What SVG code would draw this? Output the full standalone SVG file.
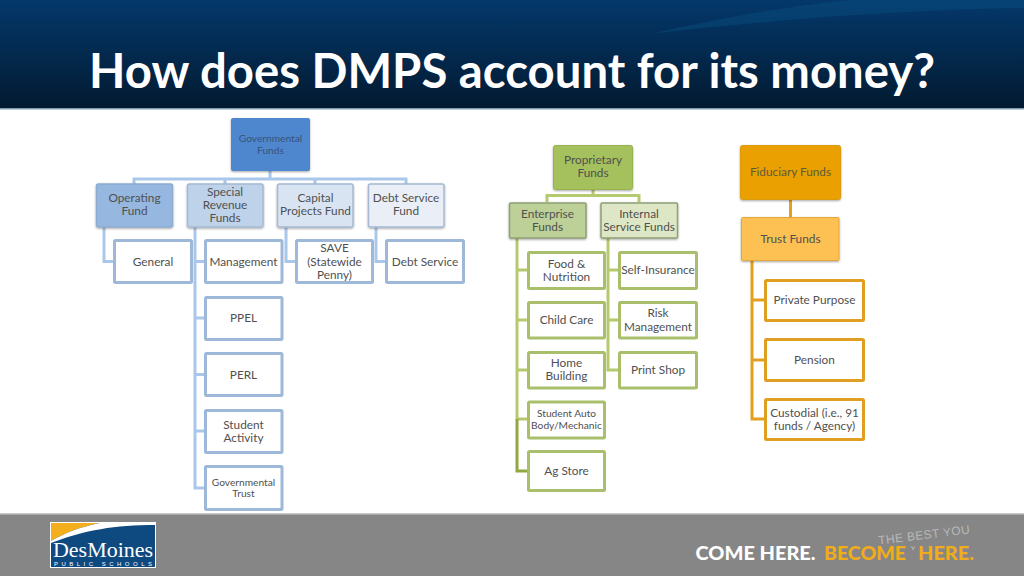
<svg xmlns="http://www.w3.org/2000/svg" width="1024" height="576" viewBox="0 0 1024 576">
<style>
text{font-family:"Lato","Open Sans","Liberation Sans",sans-serif;text-anchor:middle;fill:#505050;font-size:11.800px}
.conn{fill:none;stroke-width:3}
.b{stroke:#a9c7ea}.g{stroke:#b5ca6f}.o{stroke:#e3a01e}
.bb{fill:#fff;stroke:#9db8d9;stroke-width:3}
.gb{fill:#fff;stroke:#a9bf6c;stroke-width:3}
.ob{fill:#fff;stroke:#e09f20;stroke-width:3}
.sh{filter:url(#s)}
.sm{font-size:10.200px}
.tag{font-size:18px;font-weight:900}
</style>
<defs>
<linearGradient id="hd" x1="0" y1="0" x2="0" y2="1"><stop offset="0" stop-color="#04386b"/><stop offset="1" stop-color="#021a30"/></linearGradient>
<filter id="s" x="-10%" y="-10%" width="120%" height="125%"><feDropShadow dx="0" dy="1" stdDeviation="0.8" flood-color="#000" flood-opacity="0.35"/></filter>
</defs>
<rect width="1024" height="576" fill="#fff"/>
<g id="header">
<rect width="1024" height="109" fill="url(#hd)"/>
<path d="M650 34C720 18 790 6 850 0H1024V8C900 10 770 20 650 34Z" fill="#0a5284" opacity="0.4"/>
<rect y="108" width="1024" height="1.500" fill="#7f99ad"/>
<text x="512" y="88" textLength="846" lengthAdjust="spacingAndGlyphs" style="font-size:47px;font-weight:700;fill:#fff">How does DMPS account for its money?</text>
</g>
<g id="connectors">
<path class="conn b" d="M270 171V179M134 184V179H406V184M225 179V184M315 179V184"/>
<path class="conn b" d="M104 227V261.500H114M195 227V488H205M195 261.500H205M195 318H205M195 374.500H205M195 431H205M286 227V261.500H296M376 227V261.500H386"/>
<path class="conn g" d="M593 189V195.500M547 202V195.500H639V202"/>
<path class="conn g" d="M517 238V419M517 270H528M517 320H528M517 370H528M517 419H528M608 238V370H619M608 270H619M608 320H619"/>
<path class="conn" stroke="#8fa83f" d="M517 419V471H528"/>
<path class="conn o" d="M790.500 199V217M752 261V419H765M752 300H765M752 360H765"/>
</g>
<g id="governmental-funds"><rect class="sh" x="231" y="118" width="79" height="53" rx="2" fill="#4f87cf"/><text class="sm" x="270.500" y="142" style="fill:#35537c">Governmental</text><text class="sm" x="270.500" y="154" style="fill:#35537c">Funds</text></g>
<g id="operating-fund"><rect class="sh" x="96.500" y="184" width="76" height="43" rx="2" fill="#96b7e0" stroke="#8eacd0" stroke-width="1.500"/><text x="134.500" y="202">Operating</text><text x="134.500" y="215">Fund</text></g>
<g id="special-revenue"><rect class="sh" x="187.500" y="184" width="75.500" height="43" rx="2" fill="#bed2ea" stroke="#a5b9d2" stroke-width="1.500"/><text x="225" y="196">Special</text><text x="225" y="209">Revenue</text><text x="225" y="222">Funds</text></g>
<g id="capital-projects"><rect class="sh" x="277.500" y="184" width="75.500" height="43" rx="2" fill="#d9e4f3" stroke="#a5b9d2" stroke-width="1.500"/><text x="315.500" y="202">Capital</text><text x="315.500" y="215">Projects Fund</text></g>
<g id="debt-service-fund"><rect class="sh" x="368.500" y="184" width="75.500" height="43" rx="2" fill="#e9eef7" stroke="#a5b9d2" stroke-width="1.500"/><text x="406" y="202">Debt Service</text><text x="406" y="215">Fund</text></g>
<g id="general"><rect class="bb" x="114.500" y="240.500" width="77" height="42" rx="1"/><text x="153" y="266">General</text></g>
<g id="management"><rect class="bb" x="205.500" y="240.500" width="76.500" height="42" rx="1"/><text x="243.500" y="266">Management</text></g>
<g id="save"><rect class="bb" x="296.500" y="240.500" width="76" height="42" rx="1"/><text x="334.500" y="252">SAVE</text><text x="334.500" y="265.500">(Statewide</text><text x="334.500" y="279">Penny)</text></g>
<g id="debt-service"><rect class="bb" x="386.500" y="240.500" width="77" height="42" rx="1"/><text x="425" y="266">Debt Service</text></g>
<g id="ppel"><rect class="bb" x="205.500" y="297.500" width="76.500" height="42" rx="1"/><text x="243.500" y="322">PPEL</text></g>
<g id="perl"><rect class="bb" x="205.500" y="353.500" width="76.500" height="42" rx="1"/><text x="243.500" y="379">PERL</text></g>
<g id="student-activity"><rect class="bb" x="205.500" y="410.500" width="76.500" height="42" rx="1"/><text x="243.500" y="429">Student</text><text x="243.500" y="442">Activity</text></g>
<g id="governmental-trust"><rect class="bb" x="205.500" y="466.500" width="76.500" height="43" rx="1"/><text class="sm" x="243.500" y="486">Governmental</text><text class="sm" x="243.500" y="497">Trust</text></g>
<g id="proprietary-funds"><rect class="sh" x="553.500" y="145.500" width="79" height="44" rx="2" fill="#a5c15d" stroke="#98b24f"/><text x="593" y="164">Proprietary</text><text x="593" y="177">Funds</text></g>
<g id="enterprise-funds"><rect class="sh" x="509.500" y="203" width="76.500" height="35" rx="1" fill="#bdd097" stroke="#8f9f76" stroke-width="1.500"/><text x="547.500" y="218">Enterprise</text><text x="547.500" y="231">Funds</text></g>
<g id="internal-service"><rect class="sh" x="601" y="203" width="76.500" height="35" rx="1" fill="#dee7c5" stroke="#8f9f76" stroke-width="1.500"/><text x="639" y="218">Internal</text><text x="639" y="231">Service Funds</text></g>
<g id="food-nutrition"><rect class="gb" x="528.500" y="252.500" width="76" height="36" rx="1"/><text x="566.500" y="268">Food &amp;</text><text x="566.500" y="281">Nutrition</text></g>
<g id="child-care"><rect class="gb" x="528.500" y="302.500" width="76" height="35.500" rx="1"/><text x="566.500" y="324">Child Care</text></g>
<g id="home-building"><rect class="gb" x="528.500" y="352.500" width="76" height="35.500" rx="1"/><text x="566.500" y="367">Home</text><text x="566.500" y="380">Building</text></g>
<g id="student-auto"><rect class="gb" x="528.500" y="402" width="76" height="36" rx="1"/><text class="sm" x="566.500" y="417">Student Auto</text><text class="sm" x="566.500" y="429">Body/Mechanic</text></g>
<g id="ag-store"><rect class="gb" x="528.500" y="451.500" width="76" height="39" rx="1"/><text x="566.500" y="475">Ag Store</text></g>
<g id="self-insurance"><rect class="gb" x="619.500" y="252.500" width="77" height="36" rx="1"/><text x="658" y="274">Self-Insurance</text></g>
<g id="risk-management"><rect class="gb" x="619.500" y="302.500" width="77" height="35.500" rx="1"/><text x="658" y="317">Risk</text><text x="658" y="331">Management</text></g>
<g id="print-shop"><rect class="gb" x="619.500" y="352.500" width="77" height="35.500" rx="1"/><text x="658" y="374">Print Shop</text></g>
<g id="fiduciary-funds"><rect class="sh" x="740.500" y="145.500" width="100" height="54" rx="2" fill="#e9a004" stroke="#dc9a10"/><text x="790.500" y="176" style="fill:#5e5a3a">Fiduciary Funds</text></g>
<g id="trust-funds"><rect class="sh" x="741.500" y="217.500" width="97.500" height="43" rx="1" fill="#fdc153" stroke="#e6a63a"/><text x="790.500" y="243">Trust Funds</text></g>
<g id="private-purpose"><rect class="ob" x="765.500" y="280.500" width="98" height="40" rx="1"/><text x="814.500" y="304">Private Purpose</text></g>
<g id="pension"><rect class="ob" x="765.500" y="339.500" width="98" height="41" rx="1"/><text x="814.500" y="364">Pension</text></g>
<g id="custodial"><rect class="ob" x="765.500" y="399.500" width="98" height="40" rx="1"/><text x="814.500" y="417">Custodial (i.e., 91</text><text x="814.500" y="430">funds / Agency)</text></g>
<g id="footer">
<rect y="513" width="1024" height="63" fill="#868686"/>
<rect y="513" width="1024" height="1.500" fill="#c9c9c9"/>
<g id="logo">
<rect x="50.500" y="522.500" width="105" height="45" fill="#0e4a80" stroke="#fff"/>
<path d="M51 523H100C80 527 65 533 51 541Z" fill="#f5ae1e"/>
<path d="M51 541C65 533 80 527 100 523H155V525C115 525 85 530 51 543Z" fill="#fff"/>
<text x="103" y="557" textLength="100" lengthAdjust="spacingAndGlyphs" style="font-family:'Liberation Serif',serif;font-size:21px;fill:#fff">DesMoines</text>
<text x="103" y="565.500" textLength="98" lengthAdjust="spacing" style="font-family:'Liberation Sans',sans-serif;font-size:6px;fill:#fff">PUBLIC SCHOOLS</text>
</g>
<g id="tagline">
<text class="tag" x="755.500" y="560" textLength="120" lengthAdjust="spacingAndGlyphs" style="fill:#fff">COME HERE.</text>
<text class="tag" x="865" y="560" textLength="82" lengthAdjust="spacingAndGlyphs" style="fill:#f0ac1b">BECOME</text>
<text class="tag" x="946" y="560" textLength="56" lengthAdjust="spacingAndGlyphs" style="fill:#f0ac1b">HERE.</text>
<text x="924" y="539" textLength="92" lengthAdjust="spacing" transform="rotate(-7 924 536)" style="font-family:'Liberation Sans',sans-serif;font-size:12px;fill:#b8b8b8">THE BEST YOU</text>
<text x="913" y="550" style="font-size:8px;fill:#c4c4c4">v</text>
</g>
</g>
</svg>
